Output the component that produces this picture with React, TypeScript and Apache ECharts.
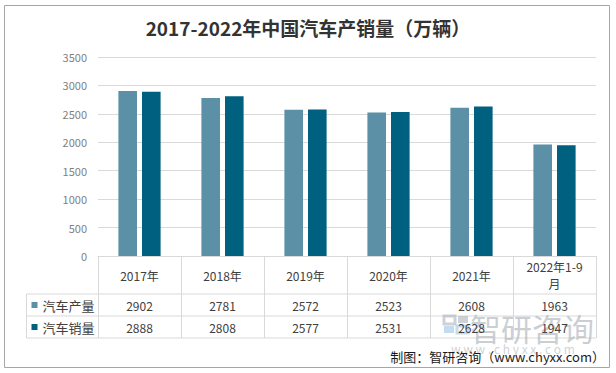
import React, { useEffect, useRef } from "react";
import * as echarts from "echarts";

const categories = ["2017年", "2018年", "2019年", "2020年", "2021年", "2022年1-9月"];
const categoryLabels = ["2017年", "2018年", "2019年", "2020年", "2021年", "2022年1-9\n月"];
const seriesNames = ["汽车产量", "汽车销量"];
const production = [2902, 2781, 2572, 2523, 2608, 1963];
const sales = [2888, 2808, 2577, 2531, 2628, 1947];
const yTicks = { min: 0, max: 3500, interval: 500 };
const titleText = "2017-2022年中国汽车产销量（万辆）";
const sourceText = "制图：智研咨询（www.chyxx.com）";

const FONT = "'Noto Sans CJK SC', 'Noto Sans', sans-serif";
const C1 = "#5b90a6";
const C2 = "#00607f";
const GRID = "#d9d9d9";
const TXT = "#404040";

export default function App() {
  const ref = useRef<HTMLDivElement>(null);
  useEffect(() => {
    if (!ref.current) return;
    const chart = echarts.init(ref.current, null, { renderer: "svg" });
    const rowAxis = (values: number[], margin: number) => ({
      type: "category",
      data: categories,
      gridIndex: 0,
      position: "bottom",
      axisLine: { show: false },
      axisTick: { show: false },
      axisLabel: {
        interval: 0,
        margin,
        verticalAlign: "middle",
        fontSize: 12,
        color: TXT,
        fontFamily: FONT,
        formatter: (_v: string, i: number) => String(values[i]),
      },
    });
    const colors = [C1, C2];
    const rowY = [305, 327];
    const rowHeaders: any[] = [];
    seriesNames.forEach((name, i) => {
      rowHeaders.push({
        type: "rect",
        shape: { x: 31.5, y: rowY[i] - 3, width: 6, height: 6 },
        style: { fill: colors[i] },
      });
      rowHeaders.push({
        type: "text",
        x: 42.5,
        y: rowY[i],
        style: { text: name, fontSize: 13, fill: TXT, verticalAlign: "middle", fontFamily: FONT },
      });
    });
    chart.setOption({
      animation: false,
      textStyle: { fontFamily: FONT },
      title: {
        text: titleText,
        left: "center",
        top: 13,
        textStyle: { fontSize: 19, fontWeight: "bold", color: "#333333", fontFamily: FONT },
      },
      grid: { left: 98, width: 498, top: 57, height: 199 },
      xAxis: [
        {
          type: "category",
          data: categories,
          axisLine: { lineStyle: { color: GRID } },
          axisTick: { show: true, length: 82, lineStyle: { color: GRID } },
          axisLabel: {
            interval: 0,
            margin: 19,
            verticalAlign: "middle",
            lineHeight: 17,
            fontSize: 12,
            color: TXT,
            fontFamily: FONT,
            formatter: (_v: string, i: number) => categoryLabels[i],
          },
        },
        rowAxis(production, 49),
        rowAxis(sales, 71),
      ],
      yAxis: {
        type: "value",
        min: yTicks.min,
        max: yTicks.max,
        interval: yTicks.interval,
        axisLine: { show: false },
        axisTick: { show: false },
        axisLabel: {
          fontSize: 11,
          color: "#7f7f7f",
          margin: 11,
          fontFamily: FONT,
          formatter: (v: number) => String(v),
        },
        splitLine: { lineStyle: { color: GRID } },
      },
      series: [
        {
          name: seriesNames[0],
          type: "bar",
          data: production,
          barWidth: "22.4%",
          barGap: "27%",
          itemStyle: { color: C1 },
        },
        {
          name: seriesNames[1],
          type: "bar",
          data: sales,
          barWidth: "22.4%",
          barGap: "27%",
          itemStyle: { color: C2 },
        },
      ],
      graphic: [
        {
          type: "rect",
          shape: { x: 4.5, y: 5.5, width: 605, height: 362 },
          style: { fill: "none", stroke: "#a6a6a6", lineWidth: 1 },
          silent: true,
        },
        { type: "line", shape: { x1: 26.5, y1: 294, x2: 596, y2: 294 }, style: { stroke: GRID, lineWidth: 1 } },
        { type: "line", shape: { x1: 26.5, y1: 316, x2: 596, y2: 316 }, style: { stroke: GRID, lineWidth: 1 } },
        { type: "line", shape: { x1: 26.5, y1: 338, x2: 596, y2: 338 }, style: { stroke: GRID, lineWidth: 1 } },
        { type: "line", shape: { x1: 26.5, y1: 294, x2: 26.5, y2: 338 }, style: { stroke: GRID, lineWidth: 1 } },
        ...rowHeaders,
        // watermark
        {
          type: "group",
          silent: true,
          z: 100,
          children: [
            { type: "rect", shape: { x: 444, y: 316, width: 11, height: 8 }, style: { fill: "none", stroke: "#aab4be", lineWidth: 3, opacity: 0.6 } },
            { type: "rect", shape: { x: 458, y: 316, width: 10, height: 7 }, style: { fill: "#aab4be", opacity: 0.6 } },
            { type: "rect", shape: { x: 444, y: 326, width: 10, height: 7 }, style: { fill: "#9ec3e6", opacity: 0.6 } },
            { type: "rect", shape: { x: 457, y: 326, width: 11, height: 7 }, style: { fill: "none", stroke: "#9ec3e6", lineWidth: 3, opacity: 0.6 } },
            {
              type: "text",
              x: 470,
              y: 327,
              style: { text: "智研咨询", fontSize: 31, fill: "#a9afb6", opacity: 0.6, verticalAlign: "middle", fontFamily: FONT },
            },
            {
              type: "text",
              x: 451,
              y: 348,
              style: { text: "w w w . c h y x x . c o m", fontSize: 12, fill: "#c4c8cc", opacity: 0.8, verticalAlign: "middle", fontFamily: FONT },
            },
          ],
        },
        {
          type: "text",
          x: 605,
          y: 356,
          style: { text: sourceText, fontSize: 13, fill: "#1a1a1a", align: "right", verticalAlign: "middle", fontFamily: FONT },
        },
      ],
    });
    return () => chart.dispose();
  }, []);
  return (
    <div
      ref={ref}
      style={{ position: "fixed", left: 0, top: 0, width: 616, height: 373, background: "#ffffff" }}
    />
  );
}
